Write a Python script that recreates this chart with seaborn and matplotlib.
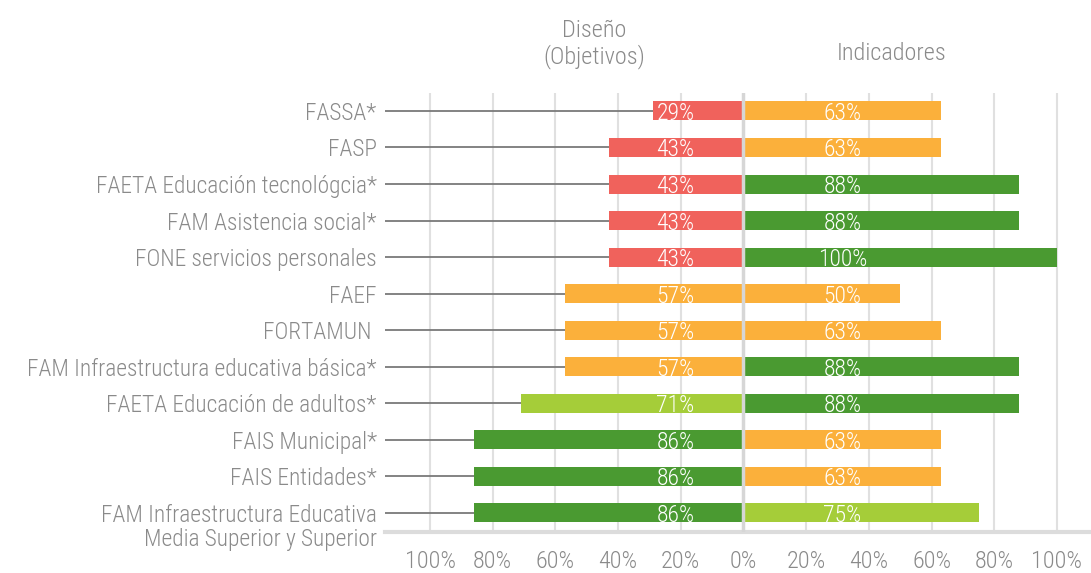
import numpy as np
import pandas as pd
import matplotlib.pyplot as plt
import seaborn as sns

# datos
programas = ['FASSA*', 'FASP', 'FAETA Educación tecnológcia*', 'FAM Asistencia social*',
             'FONE servicios personales', 'FAEF', 'FORTAMUN ', 'FAM Infraestructura educativa básica*',
             'FAETA Educación de adultos*', 'FAIS Municipal*', 'FAIS Entidades*',
             'FAM Infraestructura Educativa\nMedia Superior y Superior']
diseno = [29, 43, 43, 43, 43, 57, 57, 57, 71, 86, 86, 86]
indicadores = [63, 63, 88, 88, 100, 50, 63, 88, 88, 63, 63, 75]
ticks = [-100, -80, -60, -40, -20, 0, 20, 40, 60, 80, 100]
tick_labels = ['100%', '80%', '60%', '40%', '20%', '0%', '20%', '40%', '60%', '80%', '100%']


def color(v):
    if v < 50:
        return '#F0625C'
    if v < 70:
        return '#FBB03B'
    if v < 80:
        return '#A5CD39'
    return '#4A9A31'


sns.set_theme(style='white')
plt.rcParams['font.family'] = ['Roboto Condensed', 'Roboto', 'DejaVu Sans']
plt.rcParams['font.weight'] = 'light'
gris = '#8a8a8a'

df = pd.DataFrame({'programa': programas,
                   'diseno': [-v for v in diseno],
                   'indicadores': indicadores})

fig = plt.figure(figsize=(10.91, 5.73), dpi=100)
ax = fig.add_axes([0.3529, 0.0716, 0.6471, 0.7661])

sns.barplot(data=df, x='diseno', y='programa', hue='programa', orient='h',
            palette=[color(v) for v in diseno], legend=False, width=0.52,
            saturation=1, linewidth=0, ax=ax)
sns.barplot(data=df, x='indicadores', y='programa', hue='programa', orient='h',
            palette=[color(v) for v in indicadores], legend=False, width=0.52,
            saturation=1, linewidth=0, ax=ax)

xmin, xmax = -114.35, 110.85
ax.set_xlim(xmin, xmax)
ax.set_ylim(11.52, -0.49)

# rejilla
for t in ticks:
    if t != 0:
        ax.axvline(t, color='#e0e0e0', lw=1.5, zorder=0)
ax.axvline(0, color='#d6d6d6', lw=2.5, zorder=3)

# líneas guía y etiquetas
for i, (p, d, ind) in enumerate(zip(programas, diseno, indicadores)):
    ax.plot([xmin, -d], [i, i], color='#7a7a7a', lw=1.3, zorder=1, solid_capstyle='butt')
    ax.text(-21.7, i, f'{d}%', color='white', fontsize=17, ha='center', va='center_baseline', zorder=4)
    ax.text(31.6, i, f'{ind}%', color='white', fontsize=17, ha='center', va='center_baseline', zorder=4)
    for k, linea in enumerate(p.split('\n')):
        ax.annotate(linea, xy=(0, i), xycoords=('axes fraction', 'data'),
                    xytext=(-6, -17.5 * k), textcoords='offset points',
                    ha='right', va='center_baseline', fontsize=16.8, color=gris,
                    annotation_clip=False)

ax.set_yticks([])
ax.set_ylabel('')
ax.set_xlabel('')
ax.set_xticks(ticks)
ax.set_xticklabels(tick_labels, fontsize=17.5, color=gris)
ax.tick_params(axis='x', length=0, pad=13)

for s in ['top', 'right', 'left']:
    ax.spines[s].set_visible(False)
ax.spines['bottom'].set_color('#dcdcdc')
ax.spines['bottom'].set_linewidth(3)

fig.text(594 / 1091, 1 - 44 / 573, 'Diseño\n(Objetivos)', ha='center', va='center',
         fontsize=17.5, color=gris, linespacing=1.1)
fig.text(892 / 1091, 1 - 53 / 573, 'Indicadores', ha='center', va='center',
         fontsize=17.5, color=gris)

plt.savefig('out.png', dpi=100)
